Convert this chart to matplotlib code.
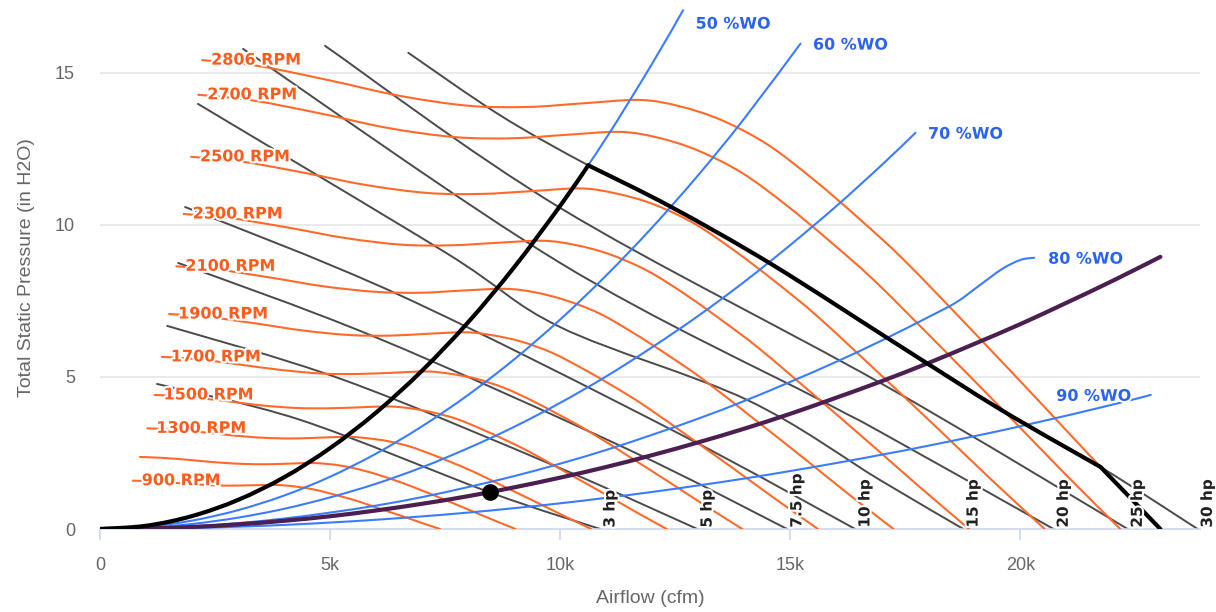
import numpy as np
import matplotlib
matplotlib.use("Agg")
import matplotlib.pyplot as plt
from matplotlib.path import Path
from matplotlib.patches import PathPatch
from matplotlib.ticker import FuncFormatter
import matplotlib.patheffects as pe

# ---------------- data (airflow cfm, static pressure in H2O) ----------------
rpm_labels = ["2806 RPM", "2700 RPM", "2500 RPM", "2300 RPM", "2100 RPM", "1900 RPM",
              "1700 RPM", "1500 RPM", "1300 RPM", "", "900 RPM"]

rpm2806_x = [2220, 3430, 5000, 6500, 8000, 9300, 10500, 11740, 12600, 13500, 14500, 15500, 16500, 17500, 19000, 20500, 21740, 23040]
rpm2806_y = [15.42, 15.23, 14.75, 14.25, 13.92, 13.88, 14.0, 14.11, 13.9, 13.45, 12.65, 11.5, 10.2, 8.8, 6.45, 4.05, 2.04, 0]
rpm2700_x = [2136, 3300, 4811, 6254, 7698, 8949, 10103, 11296, 12124, 12990, 13952, 14914, 15877, 16839, 18282, 19726, 20919, 22170]
rpm2700_y = [14.28, 14.10, 13.66, 13.19, 12.89, 12.85, 12.96, 13.06, 12.87, 12.45, 11.71, 10.65, 9.44, 8.15, 5.97, 3.75, 1.89, 0]
rpm2500_x = [1978, 3056, 4455, 5791, 7128, 8286, 9355, 10460, 11226, 12028, 12919, 13810, 14701, 15592, 16928, 18264, 19369, 20528]
rpm2500_y = [12.24, 12.09, 11.71, 11.31, 11.05, 11.02, 11.11, 11.20, 11.03, 10.68, 10.04, 9.13, 8.10, 6.99, 5.12, 3.22, 1.62, 0]
rpm2300_x = [1820, 2811, 4098, 5328, 6557, 7623, 8607, 9623, 10328, 11065, 11885, 12705, 13525, 14344, 15574, 16803, 17820, 18885]
rpm2300_y = [10.36, 10.23, 9.91, 9.57, 9.35, 9.33, 9.41, 9.48, 9.34, 9.04, 8.50, 7.73, 6.85, 5.91, 4.33, 2.72, 1.37, 0]
rpm2100_x = [1661, 2567, 3742, 4865, 5987, 6960, 7858, 8786, 9430, 10103, 10852, 11600, 12349, 13097, 14220, 15342, 16270, 17243]
rpm2100_y = [8.64, 8.53, 8.26, 7.98, 7.80, 7.77, 7.84, 7.90, 7.79, 7.53, 7.09, 6.44, 5.71, 4.93, 3.61, 2.27, 1.14, 0]
rpm1900_x = [1503, 2323, 3386, 4401, 5417, 6297, 7110, 7949, 8532, 9141, 9818, 10495, 11172, 11850, 12865, 13881, 14721, 15601]
rpm1900_y = [7.07, 6.98, 6.76, 6.53, 6.38, 6.36, 6.42, 6.47, 6.37, 6.17, 5.80, 5.27, 4.68, 4.04, 2.96, 1.86, 0.94, 0]
rpm1700_x = [1345, 2078, 3029, 3938, 4847, 5634, 6361, 7113, 7634, 8179, 8785, 9391, 9996, 10602, 11511, 12420, 13171, 13959]
rpm1700_y = [5.66, 5.59, 5.41, 5.23, 5.11, 5.10, 5.14, 5.18, 5.10, 4.94, 4.64, 4.22, 3.74, 3.23, 2.37, 1.49, 0.75, 0]
rpm1500_x = [1187, 1834, 2673, 3475, 4277, 4972, 5613, 6276, 6736, 7217, 7751, 8286, 8820, 9355, 10157, 10959, 11622, 12316]
rpm1500_y = [4.41, 4.35, 4.22, 4.07, 3.98, 3.97, 4.00, 4.03, 3.97, 3.84, 3.62, 3.29, 2.92, 2.52, 1.84, 1.16, 0.58, 0]
rpm1300_x = [1029, 1589, 2316, 3011, 3706, 4309, 4865, 5439, 5837, 6254, 6718, 7181, 7644, 8108, 8803, 9497, 10072, 10674]
rpm1300_y = [3.31, 3.27, 3.17, 3.06, 2.99, 2.98, 3.01, 3.03, 2.98, 2.89, 2.72, 2.47, 2.19, 1.89, 1.38, 0.87, 0.44, 0]
rpm1100_x = [870, 1345, 1960, 2548, 3136, 3646, 4116, 4602, 4939, 5292, 5684, 6076, 6468, 6860, 7448, 8036, 8523, 9032]
rpm1100_y = [2.37, 2.34, 2.27, 2.19, 2.14, 2.13, 2.15, 2.17, 2.14, 2.07, 1.94, 1.77, 1.57, 1.35, 0.99, 0.62, 0.31, 0]
rpm900_x = [712, 1100, 1604, 2085, 2566, 2983, 3368, 3765, 4041, 4330, 4651, 4971, 5292, 5613, 6094, 6575, 6973, 7390]
rpm900_y = [1.59, 1.57, 1.52, 1.47, 1.43, 1.43, 1.44, 1.45, 1.43, 1.38, 1.30, 1.18, 1.05, 0.91, 0.66, 0.42, 0.21, 0]

# horsepower curves
hp_labels = ["3 hp", "5 hp", "7.5 hp", "10 hp", "15 hp", "20 hp", "25 hp", "30 hp"]
hp3_x = [1240, 4350, 8480, 10870]
hp3_y = [4.77, 3.59, 1.20, 0]
hp5_x = [1460, 5300, 10000, 12980]
hp5_y = [6.68, 4.90, 2.00, 0]
hp75_x = [1700, 6000, 11500, 14930]
hp75_y = [8.75, 6.30, 2.60, 0]
hp10_x = [1850, 6500, 12500, 16410]
hp10_y = [10.59, 7.70, 3.20, 0]
hp15_x = [2130, 7500, 10000, 14070, 16960, 18760]
hp15_y = [13.98, 9.10, 6.64, 4.24, 1.60, 0]
hp20_x = [3110, 10000, 15650, 16960, 20720]
hp20_y = [15.79, 8.75, 4.24, 3.19, 0]
hp25_x = [4890, 10000, 16960, 22330]
hp25_y = [15.89, 10.56, 4.80, 0]
hp30_x = [6700, 8700, 10610, 12400, 14600, 17400, 19600, 21740, 23850]
hp30_y = [15.66, 13.60, 11.96, 10.60, 8.70, 6.00, 3.90, 2.04, 0]

# wide-open % system curves
wo_labels = ["50 %WO", "60 %WO", "70 %WO", "80 %WO", "90 %WO"]
wo50_x = [0, 1000, 2000, 3000, 4000, 5000, 6000, 7000, 8000, 9000, 10000, 11000, 12000, 12670]
wo50_y = [0, 0.106, 0.425, 0.957, 1.70, 2.66, 3.83, 5.21, 6.80, 8.61, 10.63, 12.86, 15.31, 17.06]
wo60_x = [0, 1000, 2000, 3000, 4000, 5000, 6000, 7000, 8000, 9000, 10000, 11000, 12000, 13000, 14000, 15220]
wo60_y = [0, 0.069, 0.276, 0.62, 1.10, 1.72, 2.48, 3.38, 4.41, 5.58, 6.89, 8.34, 9.92, 11.64, 13.50, 15.96]
wo70_x = [0, 1000, 2000, 3000, 4000, 5000, 6000, 7000, 8000, 9000, 10000, 11000, 12000, 13000, 14000, 15000, 16000, 17000, 17720]
wo70_y = [0, 0.042, 0.166, 0.374, 0.664, 1.04, 1.49, 2.03, 2.66, 3.36, 4.15, 5.02, 5.98, 7.01, 8.13, 9.34, 10.62, 11.99, 13.03]
wo80_x = [0, 1000, 2000, 3000, 4000, 5000, 6000, 7000, 8000, 9000, 10000, 11000, 12000, 13000, 14000, 15000, 16000, 17000, 18000, 18600, 19100, 19600, 20000, 20300]
wo80_y = [0, 0.022, 0.086, 0.194, 0.344, 0.54, 0.77, 1.05, 1.38, 1.74, 2.15, 2.60, 3.10, 3.63, 4.21, 4.84, 5.50, 6.21, 6.97, 7.45, 8.00, 8.55, 8.85, 8.92]
wo90_x = [0, 2000, 4000, 6000, 8000, 10000, 12000, 14000, 16000, 18000, 20000, 22000, 22830]
wo90_y = [0, 0.034, 0.135, 0.305, 0.541, 0.846, 1.22, 1.66, 2.17, 2.74, 3.38, 4.09, 4.41]

# system curve (purple) and operating point
sys_x = [0, 1000, 2000, 3000, 4000, 5000, 6000, 7000, 8000, 9000, 10000, 11000, 12000, 13000, 14000, 15000, 16000, 17000, 18000, 19000, 20000, 21000, 22000, 23040]
sys_y = [0, 0.017, 0.067, 0.152, 0.270, 0.42, 0.61, 0.83, 1.08, 1.37, 1.69, 2.04, 2.43, 2.85, 3.30, 3.79, 4.32, 4.87, 5.46, 6.09, 6.74, 7.44, 8.16, 8.95]
op_x = [8480]
op_y = [1.22]

# operating envelope (thick black): stall side, 30 hp side, max-rpm side
env_stall_x = [0, 1000, 2000, 3000, 4000, 5000, 6000, 7000, 8000, 9000, 10000, 10610]
env_stall_y = [0, 0.106, 0.425, 0.957, 1.70, 2.66, 3.83, 5.21, 6.80, 8.61, 10.63, 11.96]
env_hp_x = [10610, 12400, 14600, 17400, 19600, 21740]
env_hp_y = [11.96, 10.60, 8.70, 6.00, 3.90, 2.04]
env_rpm_x = [21740, 23040]
env_rpm_y = [2.04, 0]

x_ticks = [0, 5000, 10000, 15000, 20000]
y_ticks = [0, 5, 10, 15]

# ---------------- styling ----------------
ORANGE = "#ff6a2a"
ORANGE_TXT = "#ff5b1c"
BLUE = "#3b7cff"
BLUE_TXT = "#2a62f2"
GREY = "#4a4a4a"
PURPLE = "#4b1f4f"

plt.rcParams["font.family"] = ["Liberation Sans", "DejaVu Sans"]

fig = plt.figure(figsize=(12.16, 6.12), dpi=100)
ax = fig.add_axes([0.0822, 0.1356, 0.9046, 0.8546])
ax.set_xlim(0, 23900)
ax.set_ylim(0, 17.2)


def smooth(xs, ys, color, lw, z, cap="round"):
    pts = np.column_stack([xs, ys]).astype(float)
    n = len(pts)
    verts = [pts[0]]
    codes = [Path.MOVETO]
    for i in range(n - 1):
        p0 = pts[i - 1] if i > 0 else pts[i]
        p1 = pts[i]
        p2 = pts[i + 1]
        p3 = pts[i + 2] if i + 2 < n else pts[i + 1]
        verts += [p1 + (p2 - p0) / 6.0, p2 - (p3 - p1) / 6.0, p2]
        codes += [Path.CURVE4] * 3
    patch = PathPatch(Path(verts, codes), fill=False, edgecolor=color, lw=lw,
                      zorder=z, capstyle=cap, joinstyle="round")
    ax.add_patch(patch)


rpm_curves = [(rpm2806_x, rpm2806_y), (rpm2700_x, rpm2700_y), (rpm2500_x, rpm2500_y),
              (rpm2300_x, rpm2300_y), (rpm2100_x, rpm2100_y), (rpm1900_x, rpm1900_y),
              (rpm1700_x, rpm1700_y), (rpm1500_x, rpm1500_y), (rpm1300_x, rpm1300_y),
              (rpm1100_x, rpm1100_y), (rpm900_x, rpm900_y)]
hp_curves = [(hp3_x, hp3_y), (hp5_x, hp5_y), (hp75_x, hp75_y), (hp10_x, hp10_y),
             (hp15_x, hp15_y), (hp20_x, hp20_y), (hp25_x, hp25_y), (hp30_x, hp30_y)]
wo_curves = [(wo50_x, wo50_y), (wo60_x, wo60_y), (wo70_x, wo70_y), (wo80_x, wo80_y), (wo90_x, wo90_y)]

# grid
for yt in y_ticks[1:]:
    ax.axhline(yt, color="#e6e6e6", lw=1.2, zorder=0)

for (xs, ys) in hp_curves:
    smooth(xs, ys, GREY, 1.4, 2)
for (xs, ys) in rpm_curves:
    smooth(xs, ys, ORANGE, 1.5, 3)
for (xs, ys) in wo_curves:
    smooth(xs, ys, BLUE, 1.5, 4)
smooth(sys_x, sys_y, PURPLE, 3.0, 5)
smooth(env_stall_x, env_stall_y, "black", 3.0, 6)
smooth(env_hp_x, env_hp_y, "black", 3.0, 6)
smooth(env_rpm_x, env_rpm_y, "black", 3.0, 6)
ax.plot(op_x, op_y, "o", color="black", ms=11, zorder=7)

outline = [pe.withStroke(linewidth=3, foreground="white")]

# RPM labels (drawn over the start of each curve)
for (xs, ys), lab in zip(rpm_curves, rpm_labels):
    if lab:
        ax.annotate(lab, (xs[0], ys[0]), xytext=(6.5, 0), textcoords="offset points",
                    ha="left", va="center", color=ORANGE_TXT, fontsize=11.5,
                    fontweight="bold", family="DejaVu Sans", zorder=8,
                    path_effects=outline)

# hp labels
for (xs, ys), lab in zip(hp_curves, hp_labels):
    ax.annotate(lab, (xs[-1], 0), xytext=(7, 1), textcoords="offset points",
                ha="center", va="bottom", rotation=90, color="#222222",
                fontsize=11, fontweight="bold", family="DejaVu Sans", zorder=8,
                path_effects=outline)

# %WO labels
wo_offsets = [(9, -10), (9, -1), (9, -1), (10, -1), (-14, -1)]
for (xs, ys), lab, off in zip(wo_curves, wo_labels, wo_offsets):
    ax.annotate(lab, (xs[-1], ys[-1]), xytext=off, textcoords="offset points",
                ha="left" if off[0] > 0 else "right", va="center", color=BLUE_TXT,
                fontsize=11.5, fontweight="bold", family="DejaVu Sans", zorder=8,
                path_effects=outline)

# axes styling
for s in ["top", "right", "left"]:
    ax.spines[s].set_visible(False)
ax.spines["bottom"].set_color("#ccd6eb")
ax.spines["bottom"].set_linewidth(1.2)
ax.set_xticks(x_ticks)
ax.set_yticks(y_ticks)
ax.xaxis.set_major_formatter(FuncFormatter(lambda v, p: "0" if v == 0 else f"{int(v/1000)}k"))
ax.tick_params(axis="x", colors="#ccd6eb", length=8, width=1.2, labelcolor="#666666", labelsize=13, pad=12)
ax.tick_params(axis="y", length=0, labelcolor="#666666", labelsize=13, pad=18)
ax.set_xlabel("Airflow (cfm)", color="#666666", fontsize=14, labelpad=12)
ax.set_ylabel("Total Static Pressure (in H2O)", color="#666666", fontsize=14, labelpad=14)

fig.savefig("out.png", dpi=100)
